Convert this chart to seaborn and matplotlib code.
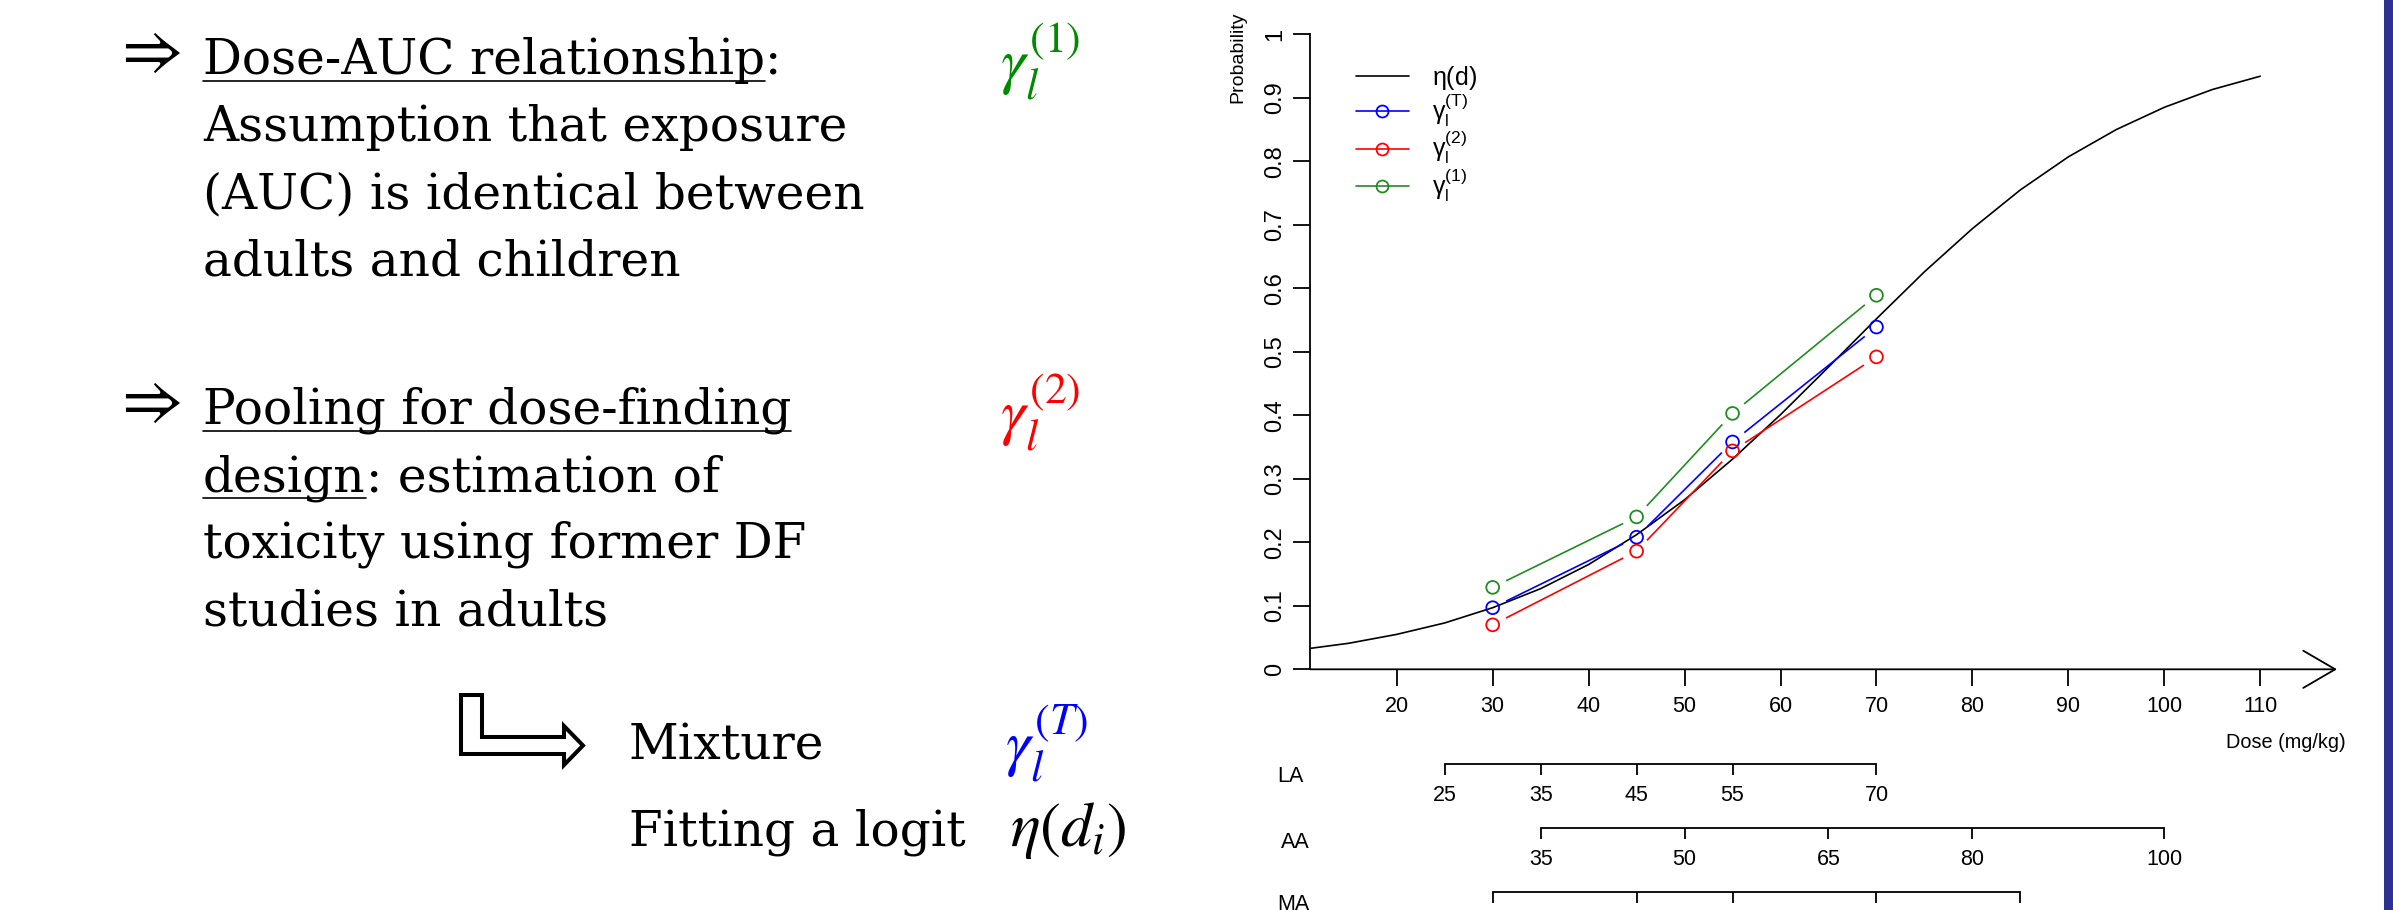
import numpy as np
import pandas as pd
import matplotlib
matplotlib.use("Agg")
import matplotlib.pyplot as plt
from matplotlib.lines import Line2D
from matplotlib.patches import Polygon, Rectangle
import seaborn as sns

# ---- values ----
DOSE_LEVELS = [30, 45, 55, 70]
GAMMA_T = [0.097, 0.208, 0.358, 0.539]
GAMMA_2 = [0.070, 0.186, 0.344, 0.492]
GAMMA_1 = [0.129, 0.240, 0.403, 0.589]

# fitted logit eta(d)
CURVE_DOSE = [11, 15, 20, 25, 30, 35, 40, 45, 50, 55, 60, 65, 70, 75, 80, 85, 90, 95, 100, 105, 110]
CURVE_PROB = [0.033, 0.041, 0.055, 0.073, 0.097, 0.127, 0.165, 0.212, 0.267, 0.331, 0.401,
              0.476, 0.552, 0.626, 0.694, 0.755, 0.807, 0.850, 0.885, 0.913, 0.934]

X_TICKS = [20, 30, 40, 50, 60, 70, 80, 90, 100, 110]
Y_TICKS = [0, 0.1, 0.2, 0.3, 0.4, 0.5, 0.6, 0.7, 0.8, 0.9, 1.0]
Y_TICK_LABELS = ["0", "0.1", "0.2", "0.3", "0.4", "0.5", "0.6", "0.7", "0.8", "0.9", "1"]

LA_TICKS = [25, 35, 45, 55, 70]
AA_TICKS = [35, 50, 65, 80, 100]
MA_TICKS = [30, 45, 55, 70, 85]

SERIES = {
    "T": (GAMMA_T, "#0000FF"),
    "2": (GAMMA_2, "#FF0000"),
    "1": (GAMMA_1, "#228B22"),
}

# ---- style ----
sns.set_theme(style="white")
plt.rcParams["font.family"] = ["Liberation Sans", "DejaVu Sans"]
plt.rcParams["mathtext.fontset"] = "custom"
plt.rcParams["mathtext.rm"] = "Liberation Sans"
plt.rcParams["mathtext.it"] = "Liberation Sans:italic"
plt.rcParams["mathtext.bf"] = "Liberation Sans:bold"
for k in ["text.color", "axes.edgecolor", "axes.labelcolor", "xtick.color", "ytick.color"]:
    plt.rcParams[k] = "black"

W, H = 2393, 910
fig = plt.figure(figsize=(W / 100, H / 100), dpi=100, facecolor="white")


def fx(px):
    return px / W


def fy(py):
    return 1 - py / H


X0, X1 = 1310, 2337          # y-axis position and arrow tip (px)
Y0, Y1 = 669.3, 34.3         # prob 0 and prob 1 (px)
XLIM = (10.96, 118.0)
LW = 1.3

ax = fig.add_axes([fx(X0), fy(Y0), (X1 - X0) / W, (Y0 - Y1) / H])
ax.set_xlim(*XLIM)
ax.set_ylim(0, 1)
ax.patch.set_alpha(0)

# black logit curve
curve = pd.DataFrame({"dose": CURVE_DOSE, "prob": CURVE_PROB})
sns.lineplot(data=curve, x="dose", y="prob", color="black", lw=1.2, ax=ax,
             estimator=None, sort=False)


def gapped_line(ax, xs, ys, color, gap=15):
    # R type="b": segments stop short of the points
    pts = ax.transData.transform(np.column_stack([xs, ys]))
    inv = ax.transData.inverted()
    for p0, p1 in zip(pts[:-1], pts[1:]):
        v = p1 - p0
        u = v / np.hypot(*v)
        a = inv.transform(p0 + u * gap)
        b = inv.transform(p1 - u * gap)
        ax.plot([a[0], b[0]], [a[1], b[1]], color=color, lw=1.2, solid_capstyle="butt")


for key, (vals, col) in SERIES.items():
    gapped_line(ax, DOSE_LEVELS, vals, col)
    sns.scatterplot(x=DOSE_LEVELS, y=vals, ax=ax, color=col, facecolor="none",
                    edgecolor=col, s=85, linewidth=1.3, zorder=3)

# axes in R style
for s in ["top", "right", "bottom"]:
    ax.spines[s].set_visible(False)
ax.spines["left"].set_bounds(0, 1)
ax.spines["left"].set_linewidth(LW)
ax.set_xticks(X_TICKS)
ax.set_xticklabels([str(t) for t in X_TICKS])
ax.set_yticks(Y_TICKS)
ax.set_yticklabels(Y_TICK_LABELS, rotation=90, va="center")
ax.tick_params(axis="x", direction="out", length=12.2, width=LW, pad=7, labelsize=15.5,
               bottom=True)
ax.tick_params(axis="y", direction="out", length=12.2, width=LW, pad=5, labelsize=17,
               left=True)
ax.set_xlabel("")
ax.set_ylabel("")
ax.annotate("", xy=(1, 0), xytext=(0, 0), xycoords="axes fraction",
            arrowprops=dict(arrowstyle="->,head_length=1.15,head_width=0.67", lw=LW,
                            color="black", shrinkA=0, shrinkB=0, mutation_scale=20),
            annotation_clip=False)

fig.text(fx(1238), fy(57), "Probability", rotation=90, ha="center", va="center", fontsize=14)
fig.text(fx(2286), fy(743), "Dose (mg/kg)", ha="center", va="center", fontsize=14.3)

# legend
handles = [Line2D([], [], color="black", lw=1.2)]
labels = [r"$\mathrm{\eta(d)}$"]
for key, (vals, col) in SERIES.items():
    handles.append(Line2D([], [], color=col, lw=1.2, marker="o", mfc="none", ms=8.6, mew=1.3))
    labels.append(r"$\mathrm{\gamma_l^{(%s)}}$" % key)
ax.legend(handles, labels, loc="upper left", bbox_to_anchor=((1356 - X0) / (X1 - X0), (Y0 - 64) / (Y0 - Y1)),
          frameon=False, fontsize=18, handlelength=2.1, handletextpad=0.95, labelspacing=0.0,
          borderpad=0, borderaxespad=0)

# dose scales for the age groups (MA labels fall below the slide edge)
RULERS = [("LA", LA_TICKS, 764, (1290, 777), True),
          ("AA", AA_TICKS, 828, (1295, 842), True),
          ("MA", MA_TICKS, 892, (1293, 905), False)]
TICK_PX = 10.5
for name, ticks, line_y, (lx, ly), show in RULERS:
    rax = fig.add_axes([fx(X0), fy(line_y + TICK_PX), (X1 - X0) / W, TICK_PX / H])
    rax.set_xlim(*XLIM)
    rax.set_ylim(0, 1)
    rax.patch.set_alpha(0)
    for s in ["left", "right", "bottom"]:
        rax.spines[s].set_visible(False)
    rax.spines["top"].set_bounds(min(ticks), max(ticks))
    rax.spines["top"].set_linewidth(LW)
    rax.set_yticks([])
    rax.set_xticks(ticks)
    rax.set_xticklabels([str(t) for t in ticks])
    rax.tick_params(axis="x", top=True, bottom=False, labeltop=False, labelbottom=show,
                    direction="in", length=TICK_PX * 0.72, width=LW, pad=7.5, labelsize=15.5)
    fig.text(fx(lx), fy(ly), name, ha="center", va="center", fontsize=15.5)

# ---- left-hand slide text ----
SERIF = "DejaVu Serif"
FS = 35
renderer = fig.canvas.get_renderer()


def put(x, yb, s, **kw):
    kw.setdefault("fontsize", FS)
    kw.setdefault("family", SERIF)
    return fig.text(fx(x), fy(yb), s, ha="left", va="baseline", **kw)


def underline(t, yb):
    bb = t.get_window_extent(renderer=renderer)
    fig.add_artist(Line2D([bb.x0 / W, bb.x1 / W], [fy(yb + 7)] * 2, color="black", lw=1.2,
                          transform=fig.transFigure))
    return bb


TEXT_X = 203
ARROW_X = 112
B1 = [74, 141, 208, 275]
B2 = [424, 491, 558, 625]

put(ARROW_X, B1[0] - 4, r"$\Rightarrow$", math_fontfamily="stix", fontsize=48)
t = put(TEXT_X, B1[0], "Dose-AUC relationship")
bb = underline(t, B1[0])
put(bb.x1, B1[0], ":")
put(TEXT_X, B1[1], "Assumption that exposure")
put(TEXT_X, B1[2], "(AUC) is identical between")
put(TEXT_X, B1[3], "adults and children")

put(ARROW_X, B2[0] - 4, r"$\Rightarrow$", math_fontfamily="stix", fontsize=48)
t = put(TEXT_X, B2[0], "Pooling for dose-finding")
underline(t, B2[0])
t = put(TEXT_X, B2[1], "design")
bb = underline(t, B2[1])
put(bb.x1, B2[1], ": estimation of")
put(TEXT_X, B2[2], "toxicity using former DF")
put(TEXT_X, B2[3], "studies in adults")

put(629, 759, "Mixture")
put(629, 846, "Fitting a logit")

put(1000, 83, r"$\gamma_l^{(1)}$", math_fontfamily="stix", fontsize=45, color="#008A00")
put(1000, 434, r"$\gamma_l^{(2)}$", math_fontfamily="stix", fontsize=45, color="#FF0000")
put(1005, 765, r"$\gamma_l^{(T)}$", math_fontfamily="stix", fontsize=45, color="#0000FF")
put(1010, 846, r"$\eta(d_i)$", math_fontfamily="stix", fontsize=45)

# hooked outline arrow
hook = [(461, 695), (482, 695), (482, 737), (564, 737), (564, 726), (583, 745.5),
        (564, 765), (564, 754), (461, 754)]
fig.add_artist(Polygon([(fx(a), fy(b)) for a, b in hook], closed=True, fill=False,
                       lw=2.9, edgecolor="black", joinstyle="miter",
                       transform=fig.transFigure))

# slide border strip on the right
fig.add_artist(Rectangle((fx(2384), 0), 9 / W, 1, transform=fig.transFigure,
                         color="#2E3192", lw=0))

fig.savefig("out.png", dpi=100, facecolor="white")
